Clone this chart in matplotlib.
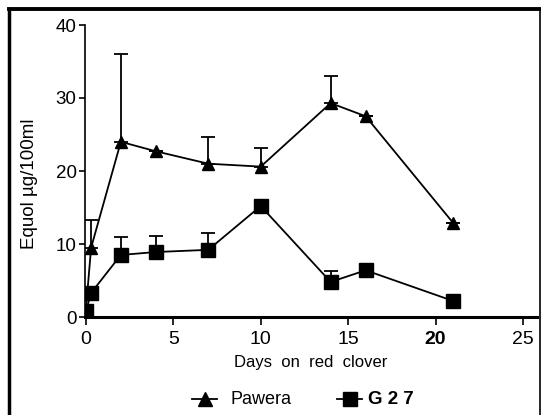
import numpy as np
import matplotlib.pyplot as plt
from matplotlib.lines import Line2D

# days on red clover
days = [0, 0.3, 2, 4, 7, 10, 14, 16, 21]

# equol, ug/100ml (upper error only)
pawera = [1.0, 9.5, 24.0, 22.7, 21.0, 20.6, 29.3, 27.5, 12.9]
pawera_err = [0, 3.8, 12.0, 0, 3.7, 2.5, 3.7, 0, 0]
g27 = [0.8, 3.3, 8.5, 8.9, 9.2, 15.2, 4.8, 6.4, 2.2]
g27_err = [0, 0, 2.5, 2.2, 2.3, 0, 1.5, 0, 0]

xticks = [0, 5, 10, 15, 20, 25]
yticks = [0, 10, 20, 30, 40]

plt.rcParams['font.family'] = ['Liberation Sans', 'DejaVu Sans']

W, H = 541, 415
fig = plt.figure(figsize=(W / 100, H / 100), dpi=100)
ax = fig.add_axes([85 / W, (H - 317) / H, 452 / W, 292 / H])

ax.errorbar(days, pawera, yerr=[np.zeros(len(days)), pawera_err], color='black',
            marker='^', markersize=9, linewidth=1.3, capsize=5, elinewidth=1.3,
            capthick=1.3)
ax.errorbar(days, g27, yerr=[np.zeros(len(days)), g27_err], color='black',
            marker='s', markersize=10, linewidth=1.3, capsize=5, elinewidth=1.3,
            capthick=1.3)

ax.set_xlim(-0.05, 25.8)
ax.set_ylim(0, 40)
ax.spines['top'].set_visible(False)
ax.spines['right'].set_visible(False)
ax.spines['left'].set_linewidth(1.2)
ax.spines['bottom'].set_linewidth(2.2)

ax.set_xticks(xticks)
ax.set_xticklabels([str(v) for v in xticks], fontsize=14)
ax.get_xticklabels()[4].set_fontweight('bold')
ax.set_yticks(yticks)
ax.set_yticklabels([str(v) for v in yticks], fontsize=13.5)
ax.tick_params(axis='x', direction='out', length=6, width=1.2, pad=4)
ax.tick_params(axis='y', direction='out', length=4, width=1.2, pad=2)

ax.set_xlabel('Days  on  red  clover', fontsize=12, labelpad=5)
ax.set_ylabel('Equol µg/100ml', fontsize=13.5)
ax.yaxis.set_label_coords(-0.103, 0.455)

# legend drawn by hand below the axis label
ly = 1 - 399 / H
fig.add_artist(Line2D([192 / W, 217 / W], [ly, ly], color='black', linewidth=1.3,
                      transform=fig.transFigure))
fig.add_artist(Line2D([204.5 / W], [ly], color='black', marker='^', markersize=10,
                      transform=fig.transFigure))
fig.text(230 / W, ly, 'Pawera', fontsize=13, va='center', ha='left')
fig.add_artist(Line2D([337 / W, 362 / W], [ly, ly], color='black', linewidth=1.3,
                      transform=fig.transFigure))
fig.add_artist(Line2D([350 / W], [ly], color='black', marker='s', markersize=10,
                      transform=fig.transFigure))
fig.text(368 / W, ly, 'G 2 7', fontsize=13.5, fontweight='bold', va='center', ha='left')

# outer frame of the scanned figure
fig.add_artist(Line2D([9 / W, 9 / W], [0, 1 - 9 / H], color='black', linewidth=2.5,
                      transform=fig.transFigure))
fig.add_artist(Line2D([9 / W, 540 / W], [1 - 9 / H, 1 - 9 / H], color='black', linewidth=2.8,
                      transform=fig.transFigure))
fig.add_artist(Line2D([539.5 / W, 539.5 / W], [0, 1 - 9 / H], color='black', linewidth=1.2,
                      transform=fig.transFigure))

fig.savefig('out.png', dpi=100)
